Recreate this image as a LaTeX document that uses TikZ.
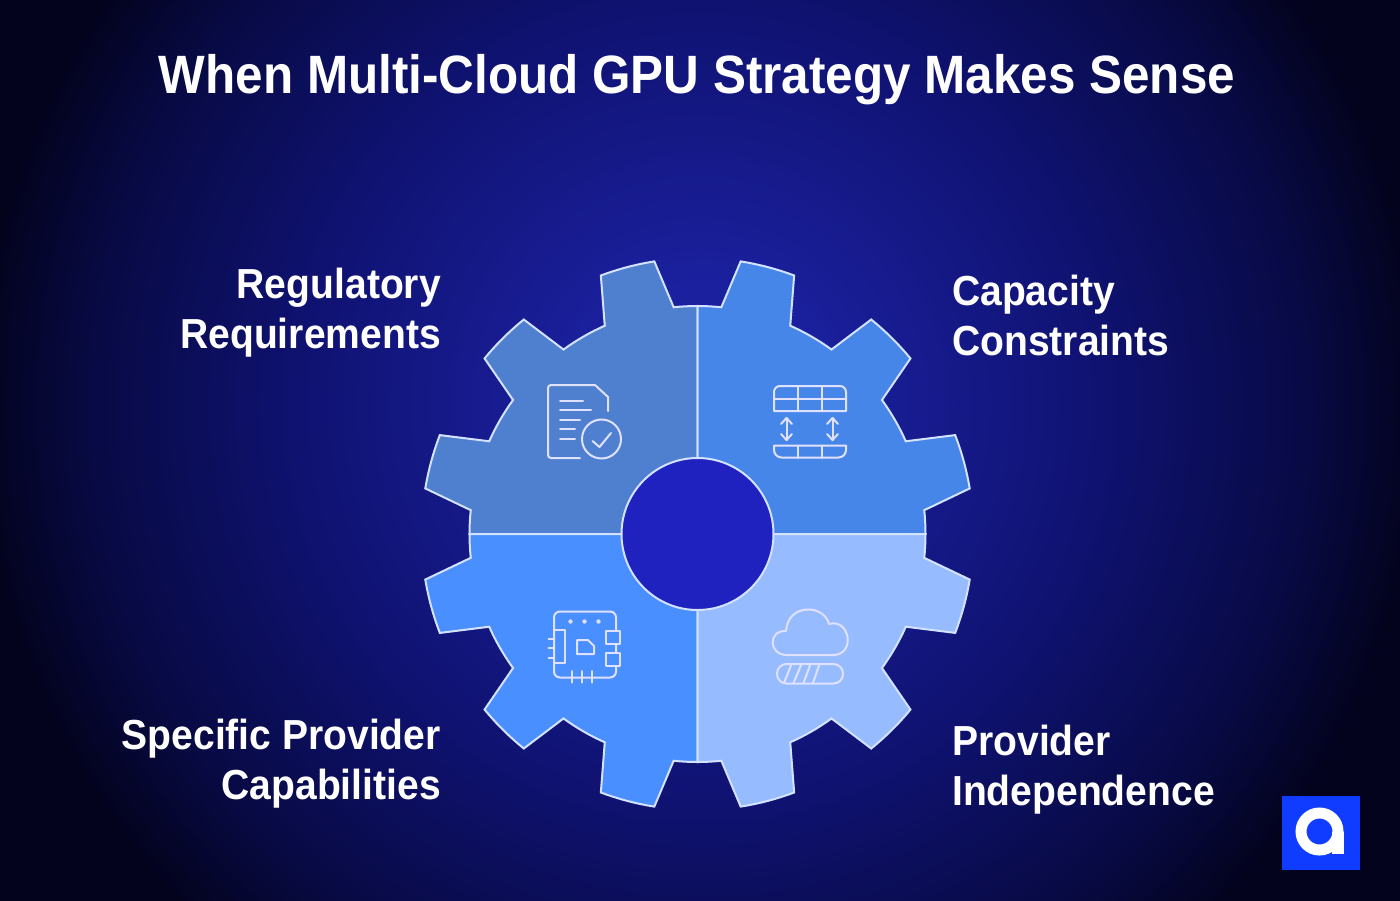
\documentclass[tikz,border=0pt]{standalone}
\usepackage{fontspec}
\setmainfont[FakeStretch=0.93]{Liberation Sans}
\newfontfamily\titlefont[FakeStretch=0.915]{Liberation Sans}
\definecolor{bgglow}{HTML}{1B209F}
\definecolor{bgmid}{HTML}{0F1270}
\definecolor{bgedge}{HTML}{080A45}
\definecolor{bgdark}{HTML}{03031E}
\definecolor{gearline}{HTML}{D3E2FF}
\definecolor{regulfill}{HTML}{4F80D0}
\definecolor{capafill}{HTML}{4686E9}
\definecolor{specfill}{HTML}{4A8FFF}
\definecolor{provfill}{HTML}{96BCFF}
\definecolor{holefill}{HTML}{2022C0}
\definecolor{logofill}{HTML}{0F3CFF}
\pgfdeclareradialshading{bgshade}{\pgfpoint{0bp}{0bp}}{
  color(0bp)=(bgglow); color(4bp)=(bgglow); color(14bp)=(bgmid); color(21bp)=(bgedge); color(25bp)=(bgdark); color(50bp)=(bgdark)}
\newcommand{\gearquad}{
  (-90:228) arc [start angle=-90, end angle=-84, radius=228]
  -- (-81:276) arc [start angle=-81, end angle=-69.5, radius=276]
  -- (-66:228) arc [start angle=-66, end angle=-54, radius=228]
  -- (-51:276) arc [start angle=-51, end angle=-39.5, radius=276]
  -- (-36:228) arc [start angle=-36, end angle=-24, radius=228]
  -- (-21:276) arc [start angle=-21, end angle=-9.5, radius=276]
  -- (-6:228) arc [start angle=-6, end angle=0, radius=228]
  -- (0,0) -- cycle}
\begin{document}
\begin{tikzpicture}
  [x=1pt, y=-1pt,
  quadrant/.style={
    draw=gearline,
    line width=2pt,
    shift={(697.5,534)}},
  iconline/.style={
    draw=white!88!blue,
    line width=2pt,
    line cap=round,
    line join=round},
  heading/.style={
    text=white,
    inner sep=0pt,
    font=\titlefont\bfseries\fontsize{54}{60}\selectfont},
  leftlabel/.style={
    text=white,
    inner sep=0pt,
    align=right,
    anchor=east,
    font=\bfseries\fontsize{42}{50}\selectfont},
  rightlabel/.style={
    text=white,
    inner sep=0pt,
    align=left,
    anchor=west,
    font=\bfseries\fontsize{42}{50}\selectfont}]

  \useasboundingbox (0,0) rectangle (1400,900);
  \fill [bgdark] (-3,-3) rectangle (1403,903);
  \begin{scope}
    \clip (-3,-3) rectangle (1403,903);
    \fill [shading=bgshade] (700,405) circle [radius=720];
  \end{scope}

  \node [heading] at (697,80) (title) {When Multi-Cloud GPU Strategy Makes Sense};

  \draw [quadrant, fill=regulfill, xscale=-1] \gearquad;
  \draw [quadrant, fill=capafill] \gearquad;
  \draw [quadrant, fill=specfill, xscale=-1, yscale=-1] \gearquad;
  \draw [quadrant, fill=provfill, yscale=-1] \gearquad;
  \draw [draw=gearline, line width=2pt, fill=holefill] (697.5,534) circle [radius=76];

  \node [leftlabel] at (441,313) (regulatory) {Regulatory\\Requirements};
  \node [rightlabel] at (952,315) (capacity) {Capacity\\Constraints};
  \node [leftlabel] at (441,764) (specific) {Specific Provider\\Capabilities};
  \node [rightlabel] at (952,770) (provider) {Provider\\Independence};

  \draw [iconline] (608,411) -- (608,397) -- (595,385) -- (551,385)
    arc [start angle=-90, end angle=-180, radius=3] -- (548,455)
    arc [start angle=180, end angle=90, radius=3] -- (580,458);
  \draw [iconline] (560,401) -- (583,401);
  \draw [iconline] (560,410) -- (591,410);
  \draw [iconline] (560,419.5) -- (580,419.5);
  \draw [iconline] (560,429) -- (575,429);
  \draw [iconline] (560,438.5) -- (575,438.5);
  \draw [iconline] (601.5,439) circle [radius=19.5];
  \draw [iconline] (592.5,441) -- (599.5,447) -- (611,433);

  \draw [iconline] (774,411) -- (774,392) arc [start angle=180, end angle=270, radius=6]
    -- (840,386) arc [start angle=-90, end angle=0, radius=6] -- (846,411) -- cycle;
  \draw [iconline] (774,399) -- (846,399);
  \draw [iconline] (798,386) -- (798,411);
  \draw [iconline] (822,386) -- (822,411);
  \draw [iconline] (781,424) -- (786.5,418) -- (792,424);
  \draw [iconline] (786.5,418) -- (786.5,440);
  \draw [iconline] (781,434) -- (786.5,440) -- (792,434);
  \draw [iconline] (827,424) -- (832.5,418) -- (838,424);
  \draw [iconline] (832.5,418) -- (832.5,440);
  \draw [iconline] (827,434) -- (832.5,440) -- (838,434);
  \draw [iconline] (774,445.5) -- (846,445.5) -- (846,450)
    arc [start angle=0, end angle=90, radius=7.5] -- (781.5,457.5)
    arc [start angle=90, end angle=180, radius=7.5] -- cycle;
  \draw [iconline] (798,445.5) -- (798,457.5);
  \draw [iconline] (822,445.5) -- (822,457.5);

  \draw [iconline, rounded corners=6pt] (554,611.5) rectangle (616,677.5);
  \draw [iconline] (554,630) rectangle (565,663);
  \draw [iconline] (548.5,638.5) -- (554,638.5);
  \draw [iconline] (548.5,648) -- (554,648);
  \draw [iconline] (548.5,657.5) -- (554,657.5);
  \fill [white!88!blue] (570.5,621.5) circle [radius=2.2];
  \fill [white!88!blue] (584.5,621.5) circle [radius=2.2];
  \fill [white!88!blue] (598.5,621.5) circle [radius=2.2];
  \draw [iconline] (577,640) -- (588,640) -- (594,646) -- (594,654) -- (577,654) -- cycle;
  \draw [iconline, fill=specfill] (606,630.5) rectangle (620,643.5);
  \draw [iconline, fill=specfill] (606,652.5) rectangle (620,665.5);
  \draw [iconline] (571.5,671) -- (571.5,682.5);
  \draw [iconline] (581.5,671) -- (581.5,682.5);
  \draw [iconline] (591.5,671) -- (591.5,682.5);

  \draw [iconline] (787,655) .. controls (768,655) and (768,630) .. (786,631)
    .. controls (788,603) and (824,604) .. (829,624)
    .. controls (850,618) and (856,655) .. (833,655) -- cycle;
  \draw [iconline, rounded corners=9.5pt] (777,664) rectangle (843,683.5);
  \draw [iconline] (784,683) -- (791.5,664);
  \draw [iconline] (793.5,683) -- (801.5,664);
  \draw [iconline] (803.5,683) -- (810.5,664);
  \draw [iconline] (813,683) -- (819.5,664);

  \fill [logofill] (1282,796) rectangle (1360,870);
  \draw [white, line width=11pt] (1319.5,831.5) circle [radius=18.5];
  \fill [white] (1332,831.5) rectangle (1343.5,853.5);
\end{tikzpicture}
\end{document}
